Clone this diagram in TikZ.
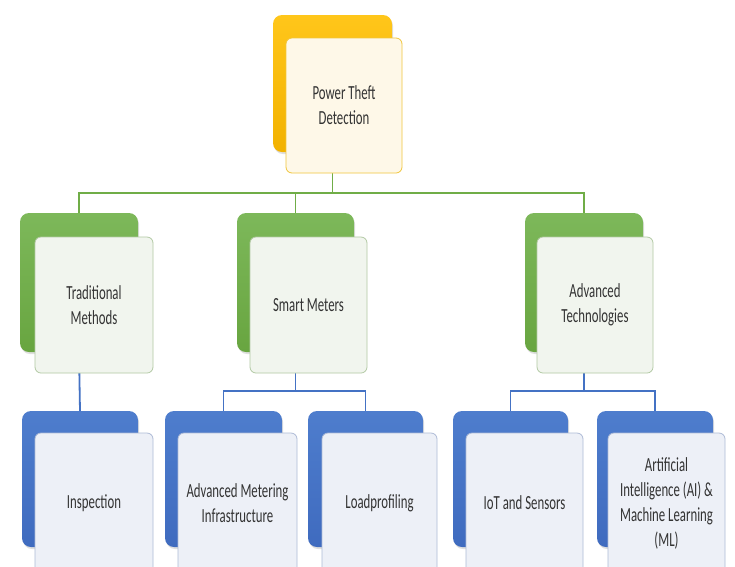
\documentclass[tikz,border=0pt]{standalone}
\usepackage{fontspec}
\newfontfamily\calfont[FakeStretch=0.64]{Carlito}
\usetikzlibrary{shadows}
\definecolor{goldA}{HTML}{FFC61A}
\definecolor{goldB}{HTML}{F2B200}
\definecolor{greenA}{HTML}{7DB85A}
\definecolor{greenB}{HTML}{68A540}
\definecolor{blueA}{HTML}{4E7DCD}
\definecolor{blueB}{HTML}{3F6BBF}
\definecolor{gline}{HTML}{70AD47}
\definecolor{bline}{HTML}{4472C4}
\definecolor{txt}{HTML}{333333}
\definecolor{goldFill}{HTML}{FEF8E8}
\definecolor{goldEdge}{HTML}{F0C53C}
\definecolor{greenFill}{HTML}{F1F5EE}
\definecolor{greenEdge}{HTML}{B2C9A4}
\definecolor{blueFill}{HTML}{EDF0F7}
\definecolor{blueEdge}{HTML}{AEBBD6}
\tikzset{
  backbox/.style={anchor=north west, inner sep=0pt, outer sep=0pt, rounded corners=9pt,
    drop shadow={shadow xshift=1pt, shadow yshift=-2pt, opacity=0.25}},
  goldback/.style={backbox, top color=goldA, bottom color=goldB},
  greenback/.style={backbox, top color=greenA, bottom color=greenB},
  blueback/.style={backbox, top color=blueA, bottom color=blueB},
  frontbox/.style={anchor=north west, inner sep=2pt, outer sep=0pt, rounded corners=6pt,
    line width=0.8pt, align=center, text=txt, font=\calfont\fontsize{20}{25}\selectfont},
  goldfront/.style={frontbox, fill=goldFill, draw=goldEdge},
  greenfront/.style={frontbox, fill=greenFill, draw=greenEdge},
  bluefront/.style={frontbox, fill=blueFill, draw=blueEdge},
  lvlone/.style={minimum width=118pt, minimum height=139pt},
  lvlonef/.style={minimum width=117pt, minimum height=136pt},
  lvltwo/.style={minimum width=116pt, minimum height=136pt},
  lvltwof/.style={minimum width=118pt, minimum height=140pt},
  gconn/.style={draw=gline, line width=1.8pt},
  bconn/.style={draw=bline, line width=1.8pt},
}
\begin{document}
\begin{tikzpicture}[x=1pt,y=-1pt]
\useasboundingbox (0,0) rectangle (735,566);
\clip (0,0) rectangle (735,566);
\fill[white] (0,0) rectangle (735,566);

% back boxes
\node[goldback, minimum width=119pt, minimum height=137pt] (tb) at (273,15) {};
\node[greenback, lvlone] (trb) at (20,213) {};
\node[greenback, lvlone, minimum width=117pt] (smb) at (237,213) {};
\node[greenback, lvlone] (atb) at (525,213) {};
\node[blueback, lvltwo] (insb) at (22,411) {};
\node[blueback, lvltwo, minimum width=117pt] (amib) at (165,411) {};
\node[blueback, lvltwo, minimum width=115pt] (lpb) at (308,411) {};
\node[blueback, lvltwo, minimum width=115pt] (iotb) at (453,411) {};
\node[blueback, lvltwo] (aib) at (597,411) {};

% connectors
\draw[gconn] (tb.south) -- ++(0,41) coordinate (jt) -| (trb.north);
\draw[gconn] (jt) -| (smb.north);
\draw[gconn] (jt) -| (atb.north);
\draw[bconn] (trb.south) -- (insb.north);
\draw[bconn] (smb.south) -- ++(0,39) coordinate (js) -| (amib.north);
\draw[bconn] (js) -| (lpb.north);
\draw[bconn] (atb.south) -- ++(0,39) coordinate (ja) -| (iotb.north);
\draw[bconn] (ja) -| (aib.north);

% front boxes
\node[goldfront, minimum width=116pt, minimum height=135pt] (tf) at (286,38) {Power Theft\\Detection};
\node[greenfront, lvlonef, minimum width=118pt] (trf) at (35,237) {Traditional\\Methods};
\node[greenfront, lvlonef] (smf) at (250,237) {Smart Meters};
\node[greenfront, lvlonef, minimum width=116pt] (atf) at (537,237) {Advanced\\Technologies};
\node[bluefront, lvltwof] (insf) at (35,433) {Inspection};
\node[bluefront, lvltwof, minimum width=119pt] (amif) at (178,433) {Advanced Metering\\Infrastructure};
\node[bluefront, lvltwof, minimum width=115pt] (lpf) at (322,433) {Loadprofiling};
\node[bluefront, lvltwof, minimum width=117pt] (iotf) at (466,433) {IoT and Sensors};
\node[bluefront, lvltwof, minimum width=117pt] (aif) at (608,433) {Artificial\\Intelligence (AI) \&\\Machine Learning\\(ML)};
\end{tikzpicture}
\end{document}
